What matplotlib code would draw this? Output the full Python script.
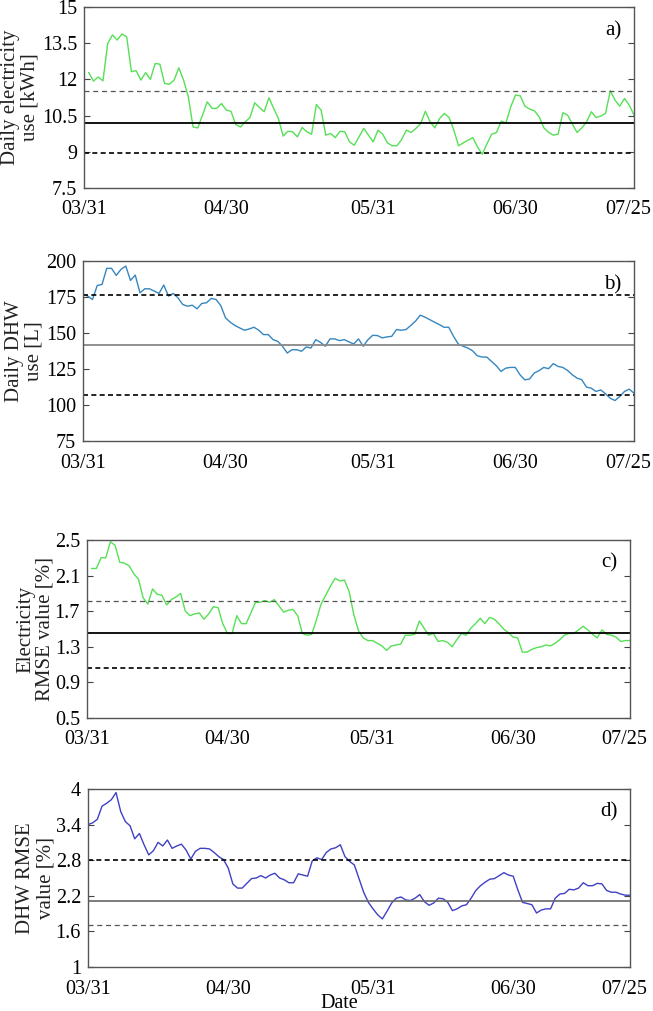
import matplotlib
matplotlib.use("Agg")
import matplotlib.pyplot as plt
import matplotlib.transforms as mtransforms
import numpy as np

plt.rcParams['font.family'] = ['Liberation Serif', 'DejaVu Serif']
plt.rcParams['font.size'] = 14.5

# x tick positions (days after 03/31) and labels
date_ticks = [0, 30, 61, 91, 116]
date_labels = ['03/31', '04/30', '05/31', '06/30', '07/25']

# a) daily electricity use [kWh], days 1..116
elec_use = [12.28, 11.93, 12.1, 11.94, 13.49, 13.84, 13.63, 13.88, 13.77, 12.32,
            12.36, 11.97, 12.28, 12.0, 12.66, 12.63, 11.83, 11.8, 11.97, 12.48,
            11.97, 11.28, 10.03, 9.99, 10.52, 11.07, 10.8, 10.8, 11.0, 10.73,
            10.68, 10.13, 10.03, 10.24, 10.42, 11.03, 10.84, 10.66, 11.24, 10.8,
            10.38, 9.65, 9.85, 9.83, 9.62, 10.01, 9.83, 9.73, 10.96, 10.73,
            9.69, 9.76, 9.59, 9.85, 9.83, 9.41, 9.27, 9.62, 9.97, 9.69,
            9.41, 9.9, 9.73, 9.37, 9.25, 9.25, 9.51, 9.9, 9.8, 9.97,
            10.17, 10.68, 10.24, 9.99, 10.38, 10.59, 10.42, 9.9, 9.25, 9.37,
            9.48, 9.59, 9.2, 8.9, 9.34, 9.73, 9.8, 10.27, 10.2, 10.86,
            11.35, 11.32, 10.89, 10.77, 10.7, 10.45, 9.99, 9.8, 9.69, 9.73,
            10.62, 10.52, 10.15, 9.8, 9.99, 10.24, 10.66, 10.42, 10.48, 10.59,
            11.53, 11.14, 10.89, 11.21, 10.93, 10.52]
elec_days = list(range(1, 117))
elec_mean, elec_hi, elec_lo = 10.2, 11.53, 8.95

# b) daily DHW use [L], days 0..116
dhw_use = [177, 175.6, 173.3, 183, 183.7, 194.9, 194.9, 190, 194.2, 196.5,
           186.5, 190.2, 177.9, 180.7, 180.7, 179.1, 177.5, 183.3, 175.6, 177.5,
           174.4, 169.8, 168.6, 169.3, 166.8, 170.5, 171, 174, 173.3, 169.1,
           160.5, 157.5, 155.2, 153.5, 151.9, 152.8, 154, 151.9, 148.9, 148.9,
           145.4, 144.2, 140.8, 136.1, 138.4, 138.4, 137.3, 140.3, 139.6, 145.4,
           143.5, 140.8, 145.9, 145.9, 144.7, 145.4, 143.8, 142.4, 145.9, 140.8,
           145.4, 148.4, 148.2, 146.6, 147.3, 147.7, 152.4, 151.9, 152.4, 155.2,
           158.2, 162.4, 161, 159.3, 157.5, 155.9, 154, 154, 147.7, 142.4,
           140.8, 139.6, 137.7, 134.2, 133.3, 133.3, 130.3, 127.3, 123.3, 125.6,
           126.1, 126.1, 121, 117.5, 118, 122.2, 123.8, 126.1, 125.2, 128.7,
           126.8, 126.1, 124, 121, 118.7, 117.5, 112.4, 111.7, 109.4, 110.5,
           107.8, 104.7, 103.1, 105.9, 109.4, 111, 108.2]
dhw_days = list(range(0, 117))
dhw_mean, dhw_hi, dhw_lo = 141.7, 176.6, 106.7

# c) electricity RMSE value [%], days 1..116
elec_rmse = [2.18, 2.18, 2.30, 2.30, 2.48, 2.44, 2.25, 2.24, 2.21, 2.12,
             2.06, 1.85, 1.78, 1.95, 1.89, 1.88, 1.77, 1.83, 1.86, 1.90,
             1.70, 1.65, 1.67, 1.68, 1.61, 1.67, 1.75, 1.74, 1.56, 1.45,
             1.45, 1.65, 1.56, 1.56, 1.68, 1.80, 1.80, 1.82, 1.80, 1.83,
             1.76, 1.69, 1.71, 1.72, 1.65, 1.45, 1.43, 1.44, 1.60, 1.78,
             1.88, 1.98, 2.07, 2.04, 2.05, 1.92, 1.66, 1.48, 1.40, 1.37,
             1.37, 1.34, 1.31, 1.26, 1.31, 1.32, 1.33, 1.43, 1.43, 1.44,
             1.59, 1.51, 1.43, 1.45, 1.36, 1.37, 1.35, 1.30, 1.38, 1.45,
             1.43, 1.51, 1.56, 1.62, 1.56, 1.63, 1.61, 1.56, 1.50, 1.46,
             1.41, 1.40, 1.24, 1.24, 1.27, 1.29, 1.30, 1.32, 1.31, 1.34,
             1.38, 1.43, 1.45, 1.45, 1.49, 1.53, 1.49, 1.44, 1.40, 1.49,
             1.44, 1.43, 1.41, 1.36, 1.37, 1.37]
rmse_e_days = list(range(1, 117))
rmse_e_mean, rmse_e_hi, rmse_e_lo = 1.46, 1.81, 1.065

# d) DHW RMSE value [%], days 0..116
dhw_rmse = [3.40, 3.43, 3.49, 3.71, 3.76, 3.82, 3.94, 3.62, 3.45, 3.38,
            3.16, 3.25, 3.06, 2.89, 2.96, 3.10, 3.04, 3.14, 3.00, 3.04,
            3.07, 2.97, 2.82, 2.95, 3.00, 3.00, 2.99, 2.93, 2.86, 2.81,
            2.67, 2.40, 2.33, 2.33, 2.41, 2.49, 2.50, 2.54, 2.50, 2.55,
            2.58, 2.50, 2.47, 2.42, 2.42, 2.57, 2.55, 2.53, 2.79, 2.84,
            2.81, 2.93, 2.99, 3.01, 3.06, 2.86, 2.78, 2.72, 2.49, 2.26,
            2.09, 1.98, 1.88, 1.81, 1.94, 2.08, 2.16, 2.18, 2.13, 2.12,
            2.16, 2.22, 2.10, 2.04, 2.08, 2.16, 2.15, 2.09, 1.95, 1.98,
            2.03, 2.05, 2.16, 2.29, 2.37, 2.43, 2.48, 2.49, 2.54, 2.59,
            2.55, 2.53, 2.30, 2.09, 2.07, 2.05, 1.91, 1.96, 1.98, 1.98,
            2.16, 2.23, 2.24, 2.31, 2.30, 2.33, 2.42, 2.37, 2.37, 2.41,
            2.40, 2.29, 2.26, 2.26, 2.23, 2.21, 2.21]
rmse_d_days = list(range(0, 117))
rmse_d_mean, rmse_d_hi, rmse_d_lo = 2.12, 2.80, 1.70

W, H = 653, 1011
fig = plt.figure(figsize=(W / 100, H / 100), dpi=100)


def make_ax(left, right, top, bottom):
    ax = fig.add_axes([left / W, 1 - bottom / H, (right - left) / W, (bottom - top) / H])
    ax.px_left, ax.px_width = left, right - left
    return ax


def style(ax, yticks, yticklabels, ylabel, label_x, tag):
    ax.set_xlim(0, 116)
    ax.set_ylim(yticks[0], yticks[-1])
    ax.set_xticks(date_ticks)
    ax.set_xticklabels(date_labels)
    ax.set_yticks(yticks)
    ax.set_yticklabels(yticklabels)
    ax.tick_params(axis='x', length=0, pad=9)
    ax.tick_params(axis='y', direction='in', length=4, right=True, left=True,
                   color='#444444', pad=5)
    for s in ax.spines.values():
        s.set_color('#555555')
        s.set_linewidth(1.0)
    ax.set_ylabel(ylabel, linespacing=1.05, color='#222222', fontsize=15)
    # right edge of the y label block, in figure pixels
    ax.yaxis.set_label_coords((label_x - ax.px_left) / ax.px_width, 0.5)
    ax.text(0.962, 0.87, tag, transform=ax.transAxes, ha='center', va='center',
            fontsize=15)
    # last date label sits at the right edge; nudge it slightly left
    last = ax.get_xticklabels()[-1]
    last.set_transform(last.get_transform() +
                       mtransforms.ScaledTranslation(-6 / 100, 0, fig.dpi_scale_trans))


# panel a
ax1 = make_ax(84, 634, 7, 188)
ax1.plot(elec_days, elec_use, color='#55e055', lw=1.0)
ax1.axhline(elec_mean, color='black', lw=1.3)
ax1.axhline(elec_hi, color='#555555', lw=0.9, ls=(0, (4, 3)))
ax1.axhline(elec_lo, color='black', lw=1.2, ls=(0, (3, 2)))
style(ax1, [7.5, 9, 10.5, 12, 13.5, 15], ['7.5', '9', '10.5', '12', '13.5', '15'],
      'Daily electricity\nuse [kWh]', 40, 'a)')

# panel b
ax2 = make_ax(83, 634, 261, 441)
ax2.plot(dhw_days, dhw_use, color='#3686c0', lw=1.0)
ax2.axhline(dhw_mean, color='#888888', lw=1.3)
ax2.axhline(dhw_hi, color='black', lw=1.2, ls=(0, (3, 2)))
ax2.axhline(dhw_lo, color='black', lw=1.2, ls=(0, (3, 2)))
style(ax2, [75, 100, 125, 150, 175, 200], ['75', '100', '125', '150', '175', '200'],
      'Daily DHW\nuse [L]', 44, 'b)')

# panel c
ax3 = make_ax(87, 630, 540, 718)
ax3.plot(rmse_e_days, elec_rmse, color='#55e055', lw=1.0)
ax3.axhline(rmse_e_mean, color='black', lw=1.3)
ax3.axhline(rmse_e_hi, color='#555555', lw=0.9, ls=(0, (4, 3)))
ax3.axhline(rmse_e_lo, color='black', lw=1.2, ls=(0, (3, 2)))
style(ax3, [0.5, 0.9, 1.3, 1.7, 2.1, 2.5], ['0.5', '0.9', '1.3', '1.7', '2.1', '2.5'],
      'Electricity\nRMSE value [%]', 55, 'c)')

# panel d
ax4 = make_ax(88, 630, 789, 967)
ax4.plot(rmse_d_days, dhw_rmse, color='#4040c4', lw=1.0)
ax4.axhline(rmse_d_mean, color='#666666', lw=1.2)
ax4.axhline(rmse_d_hi, color='black', lw=1.2, ls=(0, (3, 2)))
ax4.axhline(rmse_d_lo, color='#555555', lw=0.9, ls=(0, (4, 3)))
style(ax4, [1, 1.6, 2.2, 2.8, 3.4, 4], ['1', '1.6', '2.2', '2.8', '3.4', '4'],
      'DHW RMSE\nvalue [%]', 55, 'd)')

fig.text(339 / W, 1 - 1003 / H, 'Date', ha='center', va='center', fontsize=14.5)

fig.savefig('out.png', dpi=100)
